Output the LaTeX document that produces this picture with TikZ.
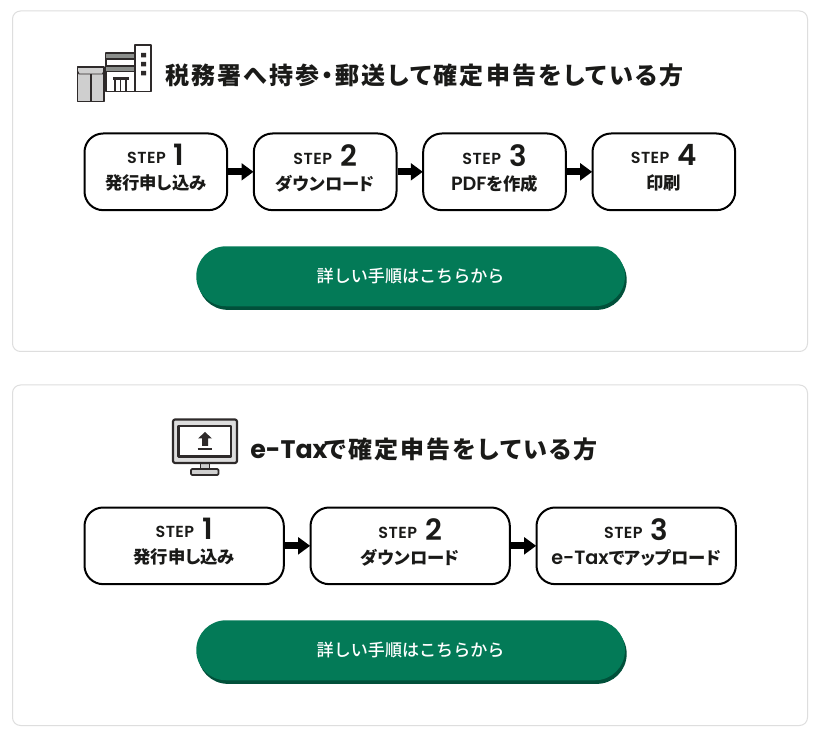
\documentclass[tikz,border=0pt]{standalone}
\usepackage{fontspec}
\usetikzlibrary{positioning,arrows.meta,shadows}
\newfontfamily\jpfont[RawFeature={+palt}]{Noto Sans CJK JP}
\newfontfamily\jpmed{Noto Sans CJK JP Medium}
\newfontfamily\lafont{Poppins}
\newfontfamily\lastep[LetterSpace=3]{Poppins SemiBold}
\newfontfamily\lasemi{Poppins SemiBold}
\definecolor{inkblack}{HTML}{1A1A18}
\definecolor{cardline}{HTML}{DEDEDE}
\definecolor{btngreen}{HTML}{037A57}
\definecolor{btndark}{HTML}{01503A}
\definecolor{iconline}{HTML}{2E2A2A}
\definecolor{icongray}{HTML}{CFCFCF}
\definecolor{bandgray}{HTML}{8C8F8C}
\newcommand{\steptext}[2]{{\raisebox{1.5pt}{\lastep\fontsize{12}{12}\selectfont STEP}\hspace{6pt}\lasemi\fontsize{22}{12}\selectfont #1}\\[6pt]{\jpfont\bfseries\fontsize{13}{13}\selectfont #2\rule[-7pt]{0pt}{0pt}}}
\newcommand{\titletext}[1]{{\jpfont\addfontfeatures{LetterSpace=9}\fontsize{18}{20}\selectfont\bfseries #1}}
\newcommand{\latin}[1]{{\lasemi\mdseries\fontsize{14.4}{13}\selectfont #1}}
\tikzset{
  card/.style = {draw=cardline, line width=0.75pt, rounded corners=6pt, fill=white},
  stepbox/.style = {draw=black, line width=1.5pt, rounded corners=14pt, fill=white, align=center,
    text=inkblack, inner sep=0pt, minimum height=57.5pt},
  steparrow/.style = {-{Triangle[length=9pt,width=12.5pt]}, line width=5.2pt, shorten >=-0.5pt},
  gobtn/.style = {fill=btngreen, text=white, rounded corners=22.4pt, minimum width=321.5pt,
    minimum height=45pt, inner sep=0pt, font=\jpmed\fontsize{12.8}{15}\selectfont,
    copy shadow={fill=btndark, draw=none, shadow xshift=1.3pt, shadow yshift=-2.7pt}},
  headline/.style = {anchor=west, inner sep=0pt, text=inkblack},
  iconpart/.style = {draw=iconline, line width=1.3pt, line join=round}
}
\begin{document}
\begin{tikzpicture}[x=0.75pt, y=-0.75pt, node distance = 18.5pt]
  \useasboundingbox[fill=white] (0,0) rectangle (829,734);

  % upper card
  \draw[card] (12.5,11) rectangle (807.5,351.5);

  % building and envelope
  \draw[iconpart, fill=white] (106,53) rectangle (135,91.5);
  \fill[bandgray] (106,53) rectangle (135,59);
  \fill[bandgray] (106,66) rectangle (135,71.5);
  \draw[iconpart] (106,53) -- (135,53) (106,59) -- (135,59) (106,66) -- (135,66) (106,71.5) -- (135,71.5);
  \draw[iconpart, fill=white] (135,45) rectangle (151,91.5);
  \fill[iconline] (141,53) rectangle (146,57.5) (141,62) rectangle (146,66.5) (141,71) rectangle (146,75.5);
  \draw[iconpart, line width=1.8pt] (113,78.5) -- (129,78.5);
  \draw[iconpart] (115,78) -- (115,91.5) (120.5,78) -- (120.5,91.5) (126,78) -- (126,91.5);
  \draw[iconpart, fill=icongray] (77.5,67) rectangle (104,101.5);
  \draw[iconpart, line width=0.7pt] (77.5,71) -- (79,74) -- (102.5,74) -- (104,71);
  \draw[iconpart] (91,74) -- (91,101.5);

  \node[headline] (title1) at (165,75) {\titletext{税務署へ持参・郵送して確定申告をしている方}};

  \node[stepbox, minimum width=107pt, anchor=north west] (a1) at (83.5,132.5) {\steptext{1}{発行申し込み}};
  \node[stepbox, minimum width=107pt, right = of a1] (a2) {\steptext{2}{ダウンロード}};
  \node[stepbox, minimum width=107pt, right = of a2] (a3) {\steptext{3}{\latin{PDF}を作成}};
  \node[stepbox, minimum width=107pt, right = of a3] (a4) {\steptext{4}{印刷}};

  \draw[steparrow] (a1) -- (a2);
  \draw[steparrow] (a2) -- (a3);
  \draw[steparrow] (a3) -- (a4);

  \node[gobtn, anchor=north west] (btn1) at (196,246) {詳しい手順はこちらから};

  % lower card
  \draw[card] (12.5,385) rectangle (807.5,725.5);

  % monitor
  \draw[iconpart, fill=icongray] (200.5,463) rectangle (209.5,470);
  \draw[iconpart, fill=icongray, rounded corners=0.8pt] (191,469) rectangle (218.5,475);
  \draw[iconpart, fill=icongray!70, line width=1.6pt, rounded corners=1.5pt] (173,419.5) rectangle (237,463);
  \draw[iconpart, fill=white, line width=1.6pt] (178.5,426) rectangle (231,456.5);
  \fill[iconline] (205,432) -- (212,438.5) -- (208,438.5) -- (208,446) -- (202,446) -- (202,438.5) -- (198,438.5) -- cycle;
  \draw[iconpart, line width=0.9pt] (197.5,449) -- (212,449);

  \node[headline] (title2) at (250,449) {{\lafont\bfseries\fontsize{19}{20}\selectfont e-Tax}\hspace{-2.5pt}\titletext{で確定申告をしている方}};

  \node[stepbox, minimum width=149.5pt, anchor=north west] (b1) at (83.5,506.5) {\steptext{1}{発行申し込み}};
  \node[stepbox, minimum width=149.5pt, right = of b1] (b2) {\steptext{2}{ダウンロード}};
  \node[stepbox, minimum width=149.5pt, right = of b2] (b3) {\steptext{3}{\latin{e-Tax}でアップロード}};

  \draw[steparrow] (b1) -- (b2);
  \draw[steparrow] (b2) -- (b3);

  \node[gobtn, anchor=north west] (btn2) at (196,620) {詳しい手順はこちらから};
\end{tikzpicture}
\end{document}
